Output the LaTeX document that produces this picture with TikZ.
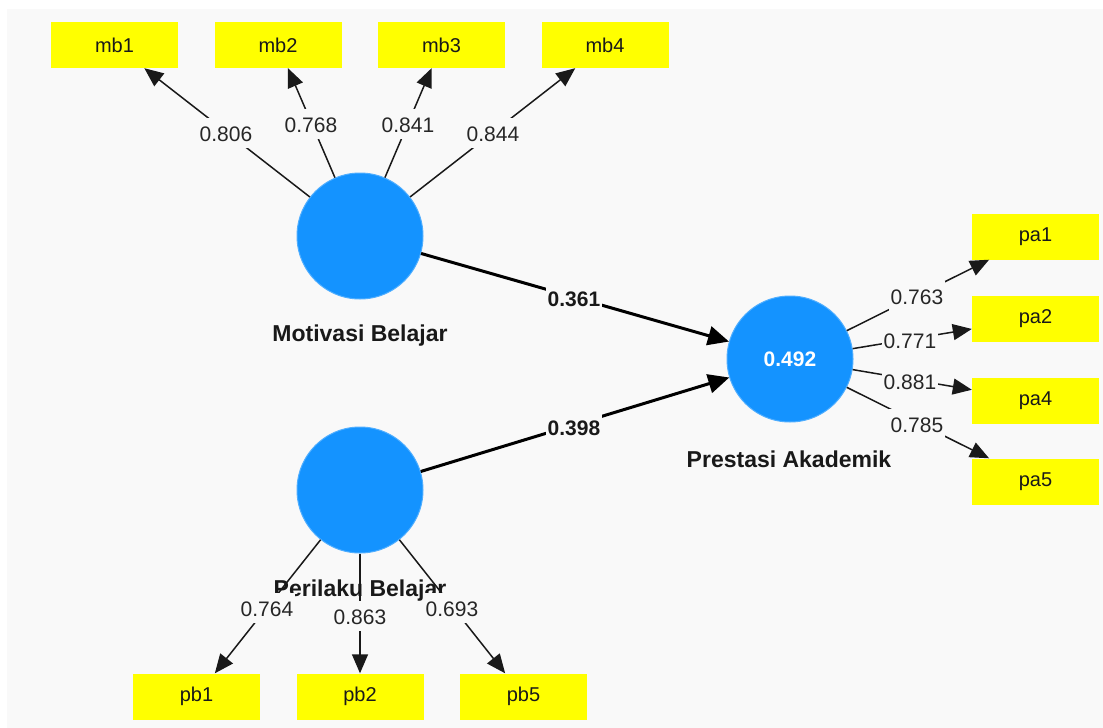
\documentclass[tikz,border=0pt]{standalone}
\usepackage{fontspec}
\setmainfont{Liberation Sans}
\usetikzlibrary{arrows.meta}
\definecolor{bg}{HTML}{F9F9F9}
\definecolor{lv}{HTML}{1493FF}
\definecolor{ind}{HTML}{FFFF00}
\begin{document}
\begin{tikzpicture}[x=1pt,y=-1pt,
 indic/.style={fill=ind, minimum width=127pt, minimum height=46pt, inner sep=0pt, text=black!90, font=\fontsize{20}{24}\selectfont},
 latent/.style={circle, fill=lv, draw=lv!75!white, line width=1pt, minimum size=126pt, inner sep=0pt},
 ltitle/.style={font=\bfseries\fontsize{23}{27}\selectfont, text=black!90},
 load/.style={line width=1.5pt, draw=black!90, -{Triangle[length=19pt,width=16pt]}},
 pathc/.style={line width=3pt, -{Triangle[length=21pt,width=19pt]}},
 lval/.style={fill=bg, inner xsep=1.5pt, inner ysep=3pt, text height=20pt, text depth=4pt, text=black!85, font=\fontsize{21}{25}\selectfont},
 pval/.style={fill=bg, inner xsep=1.5pt, inner ysep=3pt, text height=20pt, text depth=4pt, text=black!90, font=\bfseries\fontsize{21}{25}\selectfont}
]
\useasboundingbox (0,0) rectangle (1103,728);
\fill[bg] (7,9) rectangle (1103,728);

% latent variables
\node[latent] (MB) at (360,236) {};
\node[latent] (PB) at (360,490) {};
\node[latent, text=white, font=\bfseries\fontsize{21}{25}\selectfont] (PA) at (790,359) {0.492};
\node[ltitle] (tMB) at (360,336) {Motivasi Belajar};
\node[ltitle] (tPB) at (360,591) {Perilaku Belajar};
\node[ltitle] (tPA) at (789,459) {Prestasi Akademik};

% indicators
\node[indic] (mb1) at (114.5,45) {mb1};
\node[indic] (mb2) at (278,45) {mb2};
\node[indic] (mb3) at (441.5,45) {mb3};
\node[indic] (mb4) at (605,45) {mb4};
\node[indic] (pa1) at (1035.5,236.5) {pa1};
\node[indic] (pa2) at (1035.5,318.5) {pa2};
\node[indic] (pa4) at (1035.5,400.5) {pa4};
\node[indic] (pa5) at (1035.5,481.5) {pa5};
\node[indic] (pb1) at (196.5,696.5) {pb1};
\node[indic] (pb2) at (360,696.5) {pb2};
\node[indic] (pb5) at (523.5,696.5) {pb5};

% loadings
\draw[load] (MB) -- (mb1);
\draw[load] (MB) -- (mb2);
\draw[load] (MB) -- (mb3);
\draw[load] (MB) -- (mb4);
\draw[load] (PA) -- (pa1);
\draw[load] (PA) -- (pa2);
\draw[load] (PA) -- (pa4);
\draw[load] (PA) -- (pa5);
\draw[load] (PB) -- (pb1);
\draw[load] (PB) -- (pb2);
\draw[load] (PB) -- (pb5);

% structural paths
\draw[pathc] (MB) -- (PA);
\draw[pathc] (PB) -- (PA);

% values
\node[lval] (v1) at (226,133) {0.806};
\node[lval] (v2) at (311,124) {0.768};
\node[lval] (v3) at (408,124) {0.841};
\node[lval] (v4) at (493,133) {0.844};
\node[lval] (v5) at (917,296) {0.763};
\node[lval] (v6) at (910,340) {0.771};
\node[lval] (v7) at (910,381) {0.881};
\node[lval] (v8) at (917,424) {0.785};
\node[lval] (v9) at (267,608) {0.764};
\node[lval] (v10) at (360,616) {0.863};
\node[lval] (v11) at (452,608) {0.693};
\node[pval] (p1) at (574,298) {0.361};
\node[pval] (p2) at (574,427) {0.398};
\end{tikzpicture}
\end{document}
